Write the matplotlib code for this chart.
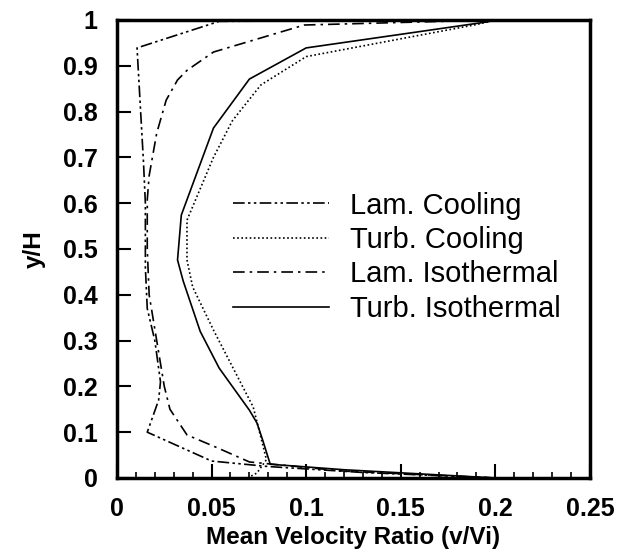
import matplotlib
matplotlib.use("Agg")
import matplotlib.pyplot as plt

plt.rcParams['font.family'] = ['Liberation Sans', 'DejaVu Sans']

# curves (velocity ratio, y/H)
lam_cool_x = [0.2, 0.13, 0.08, 0.05, 0.016, 0.022, 0.023, 0.020, 0.016, 0.015, 0.015, 0.014, 0.0106, 0.054, 0.2]
lam_cool_y = [0.0, 0.012, 0.025, 0.037, 0.10, 0.17, 0.21, 0.30, 0.37, 0.46, 0.60, 0.69, 0.939, 0.997, 1.0]

turb_cool_x = [0.069, 0.074, 0.079, 0.076, 0.072, 0.061, 0.051, 0.040, 0.037, 0.037, 0.051, 0.061, 0.076, 0.1, 0.19, 0.2]
turb_cool_y = [0.0, 0.011, 0.04, 0.09, 0.155, 0.243, 0.323, 0.417, 0.476, 0.563, 0.70, 0.78, 0.858, 0.92, 0.99, 1.0]

lam_iso_x = [0.2, 0.12, 0.07, 0.053, 0.037, 0.028, 0.025, 0.021, 0.017, 0.016, 0.016, 0.017, 0.021, 0.026, 0.032, 0.037, 0.051, 0.099, 0.2]
lam_iso_y = [0.0, 0.015, 0.035, 0.066, 0.094, 0.15, 0.2, 0.30, 0.40, 0.5, 0.607, 0.66, 0.753, 0.825, 0.869, 0.89, 0.93, 0.989, 1.0]

turb_iso_x = [0.2, 0.12, 0.081, 0.077, 0.074, 0.070, 0.054, 0.044, 0.035, 0.032, 0.034, 0.051, 0.070, 0.1, 0.196, 0.2]
turb_iso_y = [0.0, 0.018, 0.03, 0.083, 0.12, 0.148, 0.24, 0.32, 0.43, 0.476, 0.574, 0.764, 0.871, 0.939, 0.996, 1.0]

labels = ["Lam. Cooling", "Turb. Cooling", "Lam. Isothermal", "Turb. Isothermal"]

x_ticks = [0, 0.05, 0.1, 0.15, 0.2, 0.25]
x_ticklabels = ['0', '0.05', '0.1', '0.15', '0.2', '0.25']
x_minor = [0.01 * k for k in range(26)]
y_ticks = [0.1 * k for k in range(11)]
y_ticklabels = ['0', '0.1', '0.2', '0.3', '0.4', '0.5', '0.6', '0.7', '0.8', '0.9', '1']

fig = plt.figure(figsize=(6.19, 5.58), dpi=100)
ax = fig.add_axes([0.189, 0.1434, 0.764, 0.8208])

lw = 1.2
ax.plot(lam_cool_x, lam_cool_y, color='black', lw=lw, ls=(0, (7, 2, 1.5, 2, 1.5, 2)), label=labels[0])
ax.plot(turb_cool_x, turb_cool_y, color='black', lw=lw, ls=(0, (1, 1.5)), label=labels[1])
ax.plot(lam_iso_x, lam_iso_y, color='black', lw=lw, ls=(0, (7, 3, 1.5, 3)), label=labels[2])
ax.plot(turb_iso_x, turb_iso_y, color='black', lw=lw, ls='-', label=labels[3])

ax.set_xlim(0, 0.25)
ax.set_ylim(0, 1)
ax.set_xticks(x_ticks, x_ticklabels, fontsize=18, fontweight='bold')
ax.set_xticks(x_minor, minor=True)
ax.set_yticks(y_ticks, y_ticklabels, fontsize=18, fontweight='bold')

ax.tick_params(axis='both', which='major', direction='in', length=10, width=1.5)
ax.tick_params(axis='x', which='minor', direction='in', length=4, width=1.2)
ax.tick_params(axis='x', which='major', pad=14)
ax.tick_params(axis='y', which='major', pad=14)

for side in ['left', 'bottom', 'top', 'right']:
    ax.spines[side].set_linewidth(2.5)

ax.set_xlabel('Mean Velocity Ratio (v/Vi)', fontsize=17.5, fontweight='bold', labelpad=3)
ax.set_ylabel('y/H', fontsize=17.5, fontweight='bold', labelpad=12)

ax.legend(loc='center left', bbox_to_anchor=(0.245, 0.482), frameon=False,
          fontsize=21, handlelength=3.3, handletextpad=0.7, labelspacing=0.22,
          borderpad=0, borderaxespad=0)

fig.savefig('out.png', dpi=100)
